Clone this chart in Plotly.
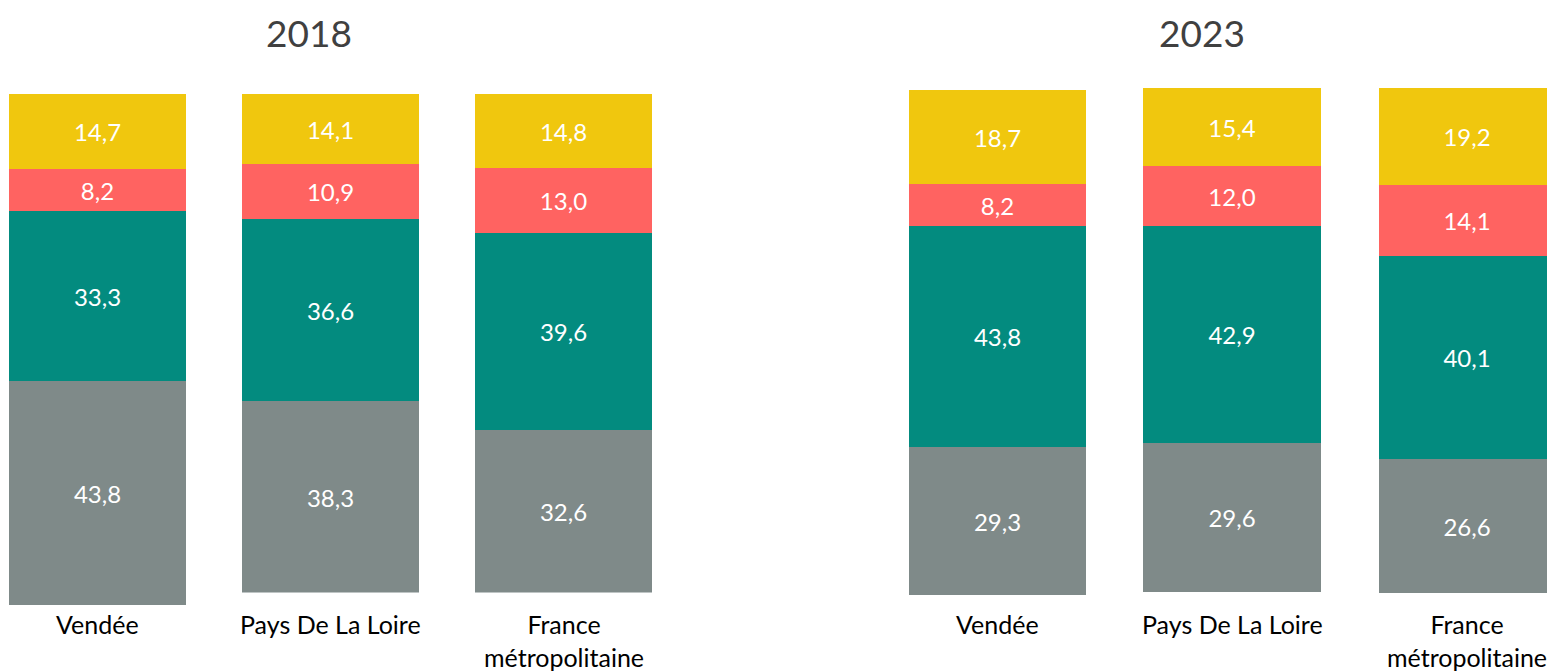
import plotly.graph_objects as go

years = ["2018", "2023"]
territories = ["Vendée", "Pays De La Loire", "France<br>métropolitaine"]
segments = ["Gris", "Vert", "Rouge", "Jaune"]
colors = ["#7F8A89", "#038B7F", "#FF6361", "#F0C70E"]

# values per year, per segment (bottom to top), per territory
grey_2018 = [43.8, 38.3, 32.6]
teal_2018 = [33.3, 36.6, 39.6]
red_2018 = [8.2, 10.9, 13.0]
yellow_2018 = [14.7, 14.1, 14.8]

grey_2023 = [29.3, 29.6, 26.6]
teal_2023 = [43.8, 42.9, 40.1]
red_2023 = [8.2, 12.0, 14.1]
yellow_2023 = [18.7, 15.4, 19.2]

data = {
    "2018": [grey_2018, teal_2018, red_2018, yellow_2018],
    "2023": [grey_2023, teal_2023, red_2023, yellow_2023],
}

# page body has an 8px margin; work in window pixels and convert
OFF = 8
W, H = 1555 - OFF, 672 - OFF


def px_x(p):
    return (p - OFF) / W


def px_y(p):
    return 1 - (p - OFF) / H


# pixel layout of each bar in the window: (left, right, top, bottom)
boxes = {
    ("2018", 0): (9, 186, 94, 605),
    ("2018", 1): (242, 419, 94, 592.5),
    ("2018", 2): (475, 652, 94, 592.5),
    ("2023", 0): (909, 1086, 90, 595),
    ("2023", 1): (1143, 1321, 88, 592),
    ("2023", 2): (1379, 1556, 88, 593),
}

fig = go.Figure()
layout = {}
annotations = []
k = 0
for year in years:
    for t, terr in enumerate(territories):
        k += 1
        xa = "x" if k == 1 else f"x{k}"
        ya = "y" if k == 1 else f"y{k}"
        total = 0
        for s in range(4):
            v = data[year][s][t]
            total += v
            fig.add_trace(go.Bar(
                x=[terr], y=[v], xaxis=xa, yaxis=ya,
                marker=dict(color=colors[s], line=dict(width=0)),
                width=1,
                text=[v], texttemplate="%{y:.1f}",
                textposition="inside", insidetextanchor="middle",
                textangle=0, constraintext="none",
                textfont=dict(family="Lato", size=24, color="white"),
                showlegend=False, hoverinfo="skip", name=segments[s],
            ))
        l, r, tp, bt = boxes[(year, t)]
        layout[f"xaxis{k if k > 1 else ''}"] = dict(
            domain=[max(px_x(l), 0), min(px_x(r), 1)], range=[-0.5, 0.5],
            type="category", visible=False, anchor=ya, fixedrange=True)
        layout[f"yaxis{k if k > 1 else ''}"] = dict(
            domain=[px_y(bt), px_y(tp)], range=[0, total],
            visible=False, anchor=xa, fixedrange=True)
        annotations.append(dict(
            x=terr, xref=xa, y=px_y(607), yref="paper",
            text=terr, showarrow=False, xanchor="center", yanchor="top",
            font=dict(family="Lato", size=25, color="black"), align="center"))

for year, cx in zip(years, [309, 1202]):
    annotations.append(dict(x=px_x(cx), y=px_y(8), xref="paper", yref="paper",
                            text=year, showarrow=False, xanchor="center",
                            yanchor="top",
                            font=dict(family="Lato", size=37, color="#404040")))

fig.update_layout(
    width=W, height=H,
    margin=dict(l=0, r=0, t=0, b=0),
    paper_bgcolor="white", plot_bgcolor="white",
    barmode="stack", bargap=0,
    separators=", ",
    annotations=annotations,
    **layout,
)

fig.write_html("out.html", config={"displayModeBar": False})
